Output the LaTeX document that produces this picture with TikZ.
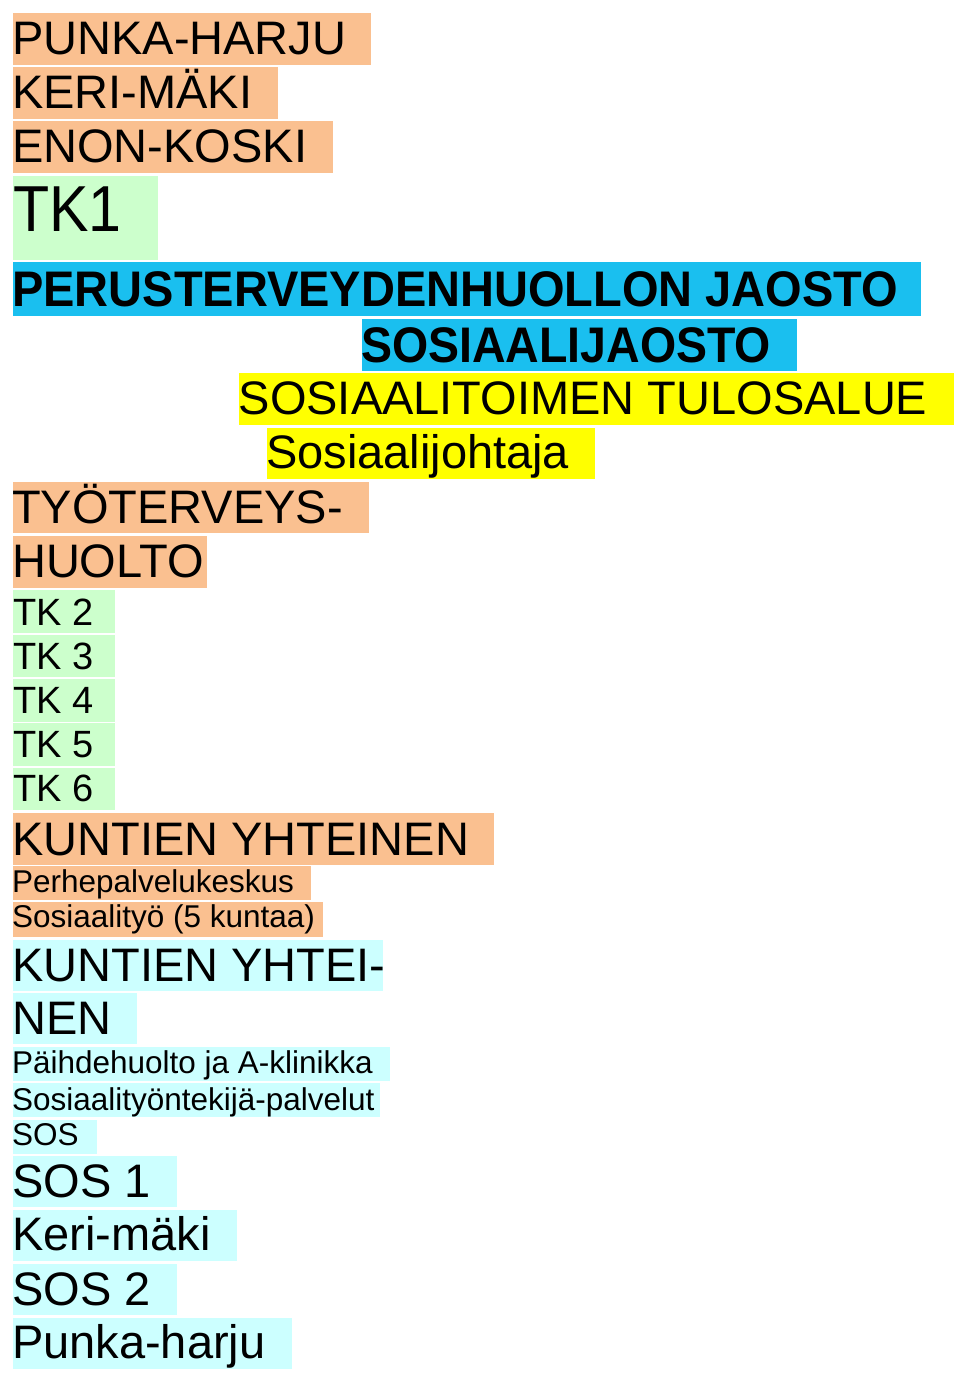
\documentclass[tikz,border=0pt]{standalone}
\usepackage{fontspec}
\usepackage{graphicx}
\setmainfont{Liberation Sans}
\definecolor{orng}{HTML}{FAC090}
\definecolor{grn}{HTML}{CCFFCC}
\definecolor{cyn}{HTML}{1ABFEF}
\definecolor{lcyn}{HTML}{CCFFFF}
\definecolor{yel}{HTML}{FFFF00}
\newcommand\hlbox[2]{\hbox to #1pt{\kern-0.6pt #2\hss}}
\tikzset{
  hl/.style={anchor=north west, inner sep=0pt, outer sep=0pt},
  big/.style={font=\fontsize{47pt}{47pt}\selectfont},
  huge/.style={font=\fontsize{65pt}{65pt}\selectfont},
  mid/.style={font=\fontsize{38pt}{38pt}\selectfont},
  small/.style={font=\fontsize{31.5pt}{31.5pt}\selectfont},
  bold/.style={font=\fontsize{50pt}{50pt}\selectfont\bfseries},
}
\begin{document}
\begin{tikzpicture}[x=1pt,y=-1pt]
\useasboundingbox (0,0) rectangle (960,1379);
\fill[white] (0,0) rectangle (960,1379);
% top block
\node[hl,big,fill=orng,text height=41.5pt,text depth=10.5pt] (punka) at (12.7,13) {\hlbox{358.3}{PUNKA-HARJU}};
\node[hl,big,fill=orng,text height=41.5pt,text depth=10pt] (keri) at (12.7,67) {\hlbox{265.3}{KERI-MÄKI}};
\node[hl,big,fill=orng,text height=41.5pt,text depth=10.5pt] (enon) at (12.7,121) {\hlbox{320.3}{ENON-KOSKI}};
\node[hl,huge,fill=grn,text height=56.2pt,text depth=27.8pt] (tk1) at (12.7,175.5) {\hlbox{145.3}{\kern1pt\scalebox{0.91}[1]{TK1}}};
\node[hl,bold,fill=cyn,text height=44.2pt,text depth=9.5pt] (perus) at (12.7,262.3) {\hlbox{908.3}{\scalebox{0.94}[1]{PERUSTERVEYDENHUOLLON JAOSTO}}};
\node[hl,bold,fill=cyn,text height=43pt,text depth=9pt] (sosj) at (361.7,319) {\hlbox{435}{\scalebox{0.93}[1]{SOSIAALIJAOSTO}}};
\node[hl,big,fill=yel,text height=40.7pt,text depth=11pt] (tulos) at (239.3,373.3) {\hlbox{715}{SOSIAALITOIMEN TULOSALUE}};
\node[hl,big,fill=yel,text height=40.3pt,text depth=11pt] (johtaja) at (266.7,427.7) {\hlbox{328.3}{Sosiaalijohtaja}};
\node[hl,big,fill=orng,text height=41.6pt,text depth=9.7pt] (tyo) at (12.7,481.7) {\hlbox{356.3}{TYÖTERVEYS-}};
\node[hl,big,fill=orng,text height=42pt,text depth=10pt] (huolto) at (12.7,535.7) {\hlbox{194.6}{HUOLTO}};
% TK list
\node[hl,mid,fill=grn,text height=35pt,text depth=7.7pt] (tk2) at (12.7,590) {\hlbox{102.3}{\kern1pt TK 2}};
\node[hl,mid,fill=grn,text height=34.5pt,text depth=7.5pt] (tk3) at (12.7,634.7) {\hlbox{102.3}{\kern1pt TK 3}};
\node[hl,mid,fill=grn,text height=35pt,text depth=8.2pt] (tk4) at (12.7,678.5) {\hlbox{102.3}{\kern1pt TK 4}};
\node[hl,mid,fill=grn,text height=34pt,text depth=9pt] (tk5) at (12.7,723.3) {\hlbox{102.3}{\kern1pt TK 5}};
\node[hl,mid,fill=grn,text height=33.5pt,text depth=8.3pt] (tk6) at (12.7,768.2) {\hlbox{102.3}{\kern1pt TK 6}};
% orange block
\node[hl,big,fill=orng,text height=42.3pt,text depth=10pt] (kunt1) at (12.7,812.7) {\hlbox{481.6}{KUNTIEN YHTEINEN}};
\node[hl,small,fill=orng,text height=26pt,text depth=8pt] (perhe) at (12.7,866) {\hlbox{298}{Perhepalvelukeskus}};
\node[hl,small,fill=orng,text height=24.7pt,text depth=9.7pt] (sostyo) at (12.7,902.3) {\hlbox{310.6}{Sosiaalityö (5 kuntaa)}};
% light cyan block
\node[hl,big,fill=lcyn,text height=41.5pt,text depth=9pt] (kunt2) at (12.7,940) {\hlbox{370.6}{KUNTIEN YHTEI-}};
\node[hl,big,fill=lcyn,text height=40.7pt,text depth=9.5pt] (nen) at (12.7,993.3) {\hlbox{124}{NEN}};
\node[hl,small,fill=lcyn,text height=26.3pt,text depth=7.5pt] (paihde) at (12.7,1046.7) {\hlbox{377.3}{Päihdehuolto ja A-klinikka}};
\node[hl,small,fill=lcyn,text height=26.7pt,text depth=7pt] (sostek) at (12.7,1083.3) {\hlbox{367.3}{Sosiaalityöntekijä-palvelut}};
\node[hl,small,fill=lcyn,text height=25pt,text depth=8.5pt] (sos) at (12.7,1120) {\hlbox{84}{SOS}};
\node[hl,big,fill=lcyn,text height=41.5pt,text depth=10pt] (sos1) at (12.7,1155.5) {\hlbox{164}{SOS 1}};
\node[hl,big,fill=lcyn,text height=40pt,text depth=11pt] (kerim) at (12.7,1210) {\hlbox{224}{Keri-mäki}};
\node[hl,big,fill=lcyn,text height=41.5pt,text depth=10pt] (sos2) at (12.7,1263.5) {\hlbox{164}{SOS 2}};
\node[hl,big,fill=lcyn,text height=40.3pt,text depth=11pt] (punkah) at (12.7,1317.7) {\hlbox{279}{Punka-harju}};
\end{tikzpicture}
\end{document}
